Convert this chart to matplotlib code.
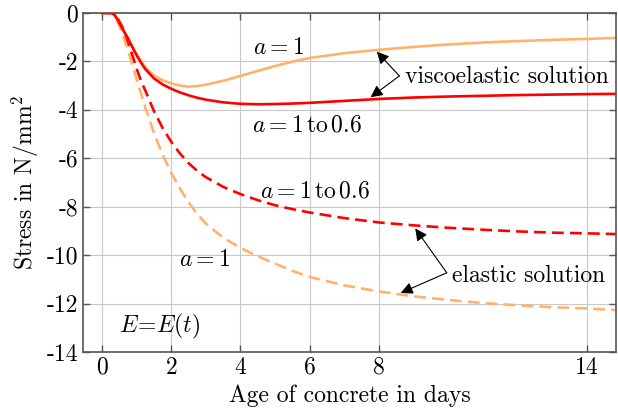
import matplotlib
matplotlib.use("Agg")
import matplotlib.pyplot as plt

plt.rcParams['font.family'] = 'serif'
plt.rcParams['font.serif'] = ['cmr10', 'DejaVu Serif']
plt.rcParams['mathtext.fontset'] = 'cm'
plt.rcParams['axes.unicode_minus'] = False

# age of concrete (days)
t = [0, 0.27, 0.35, 0.45, 0.6, 0.75, 0.9, 1.0, 1.13, 1.25, 1.5, 1.75, 2.0, 2.25, 2.5, 2.75,
     3.0, 3.5, 4.0, 4.5, 5.0, 5.5, 6.0, 7.0, 8.0, 9.0, 10.0, 11.0, 12.0, 13.0, 14.0, 14.85]

# viscoelastic solution
visco_a1 = [0, 0, -0.06, -0.28, -0.68, -1.05, -1.45, -1.7, -2.0, -2.25, -2.58, -2.78, -2.91, -3.0, -3.04, -3.02,
            -2.96, -2.8, -2.6, -2.39, -2.19, -2.01, -1.86, -1.66, -1.52, -1.4, -1.3, -1.22, -1.16, -1.11, -1.07, -1.03]
visco_a06 = [0, 0, -0.06, -0.28, -0.68, -1.05, -1.48, -1.75, -2.06, -2.32, -2.7, -2.95, -3.13, -3.28, -3.4, -3.5,
             -3.58, -3.69, -3.75, -3.77, -3.76, -3.74, -3.71, -3.63, -3.55, -3.49, -3.45, -3.42, -3.39, -3.37, -3.35, -3.34]

# elastic solution
elast_a1 = [0, 0, -0.08, -0.35, -0.9, -1.55, -2.25, -2.75, -3.35, -3.9, -4.95, -5.85, -6.6, -7.25, -7.82, -8.3,
            -8.7, -9.28, -9.7, -10.05, -10.35, -10.65, -10.9, -11.25, -11.5, -11.7, -11.85, -11.98, -12.07, -12.15, -12.2, -12.27]
elast_a06 = [0, 0, -0.05, -0.22, -0.6, -1.2, -1.85, -2.3, -2.82, -3.2, -4.05, -4.75, -5.32, -5.8, -6.2, -6.52,
             -6.78, -7.18, -7.48, -7.73, -7.94, -8.1, -8.24, -8.47, -8.65, -8.77, -8.87, -8.95, -9.02, -9.07, -9.1, -9.13]

xticks = [0, 2, 4, 6, 8, 14]
yticks = [0, -2, -4, -6, -8, -10, -12, -14]

orange = '#ffb26b'
red = '#ff0000'
fs = 17

fig = plt.figure(figsize=(6.18, 4.15), dpi=100)
ax = fig.add_axes([0.1343, 0.1518, 0.8625, 0.8169])

ax.plot(t, elast_a1, color=orange, lw=1.9, dashes=(4.5, 2.3))
ax.plot(t, elast_a06, color=red, lw=1.9, dashes=(4.5, 2.3))
ax.plot(t, visco_a1, color=orange, lw=1.9)
ax.plot(t, visco_a06, color=red, lw=1.9)

ax.set_xlim(-0.55, 14.85)
ax.set_ylim(-14, 0)
ax.set_xticks(xticks)
ax.set_xticklabels([str(v) for v in xticks])
ax.set_yticks(yticks)
ax.set_yticklabels([str(v) for v in yticks])
ax.tick_params(direction='in', top=True, right=True, length=5, width=1, labelsize=fs, colors='k')
ax.tick_params(axis='both', color='#555555')
ax.grid(True, color='#c8c8c8', lw=0.8)
ax.set_axisbelow(True)
for s in ax.spines.values():
    s.set_color('#555555')
    s.set_linewidth(1.2)

ax.set_xlabel('Age of concrete in days', fontsize=fs)
ax.set_ylabel(r'Stress in N/mm$^2$', fontsize=fs)

ax.text(5.1, -1.45, r'$a = 1$', fontsize=fs, ha='center', va='center')
ax.text(5.93, -4.63, r'$a = 1\,\mathrm{to}\,0.6$', fontsize=fs, ha='center', va='center')
ax.text(6.14, -7.38, r'$a = 1\,\mathrm{to}\,0.6$', fontsize=fs, ha='center', va='center')
ax.text(2.97, -10.2, r'$a = 1$', fontsize=fs, ha='center', va='center')
ax.text(1.66, -12.96, r'$E\!=\!E(t)$', fontsize=fs, ha='center', va='center')

ax.text(8.76, -2.63, 'viscoelastic solution', fontsize=fs, ha='left', va='center')
ax.text(10.11, -10.87, 'elastic solution', fontsize=fs, ha='left', va='center')

arrow = dict(arrowstyle='-|>', mutation_scale=18, lw=0.8, color='k', shrinkA=0, shrinkB=0)
ax.annotate('', xy=(7.94, -1.6), xytext=(8.59, -2.6), arrowprops=arrow)
ax.annotate('', xy=(7.76, -3.48), xytext=(8.59, -2.6), arrowprops=arrow)
ax.annotate('', xy=(9.05, -8.9), xytext=(9.96, -10.73), arrowprops=arrow)
ax.annotate('', xy=(8.63, -11.56), xytext=(9.96, -10.73), arrowprops=arrow)

fig.savefig('out.png', dpi=100)
